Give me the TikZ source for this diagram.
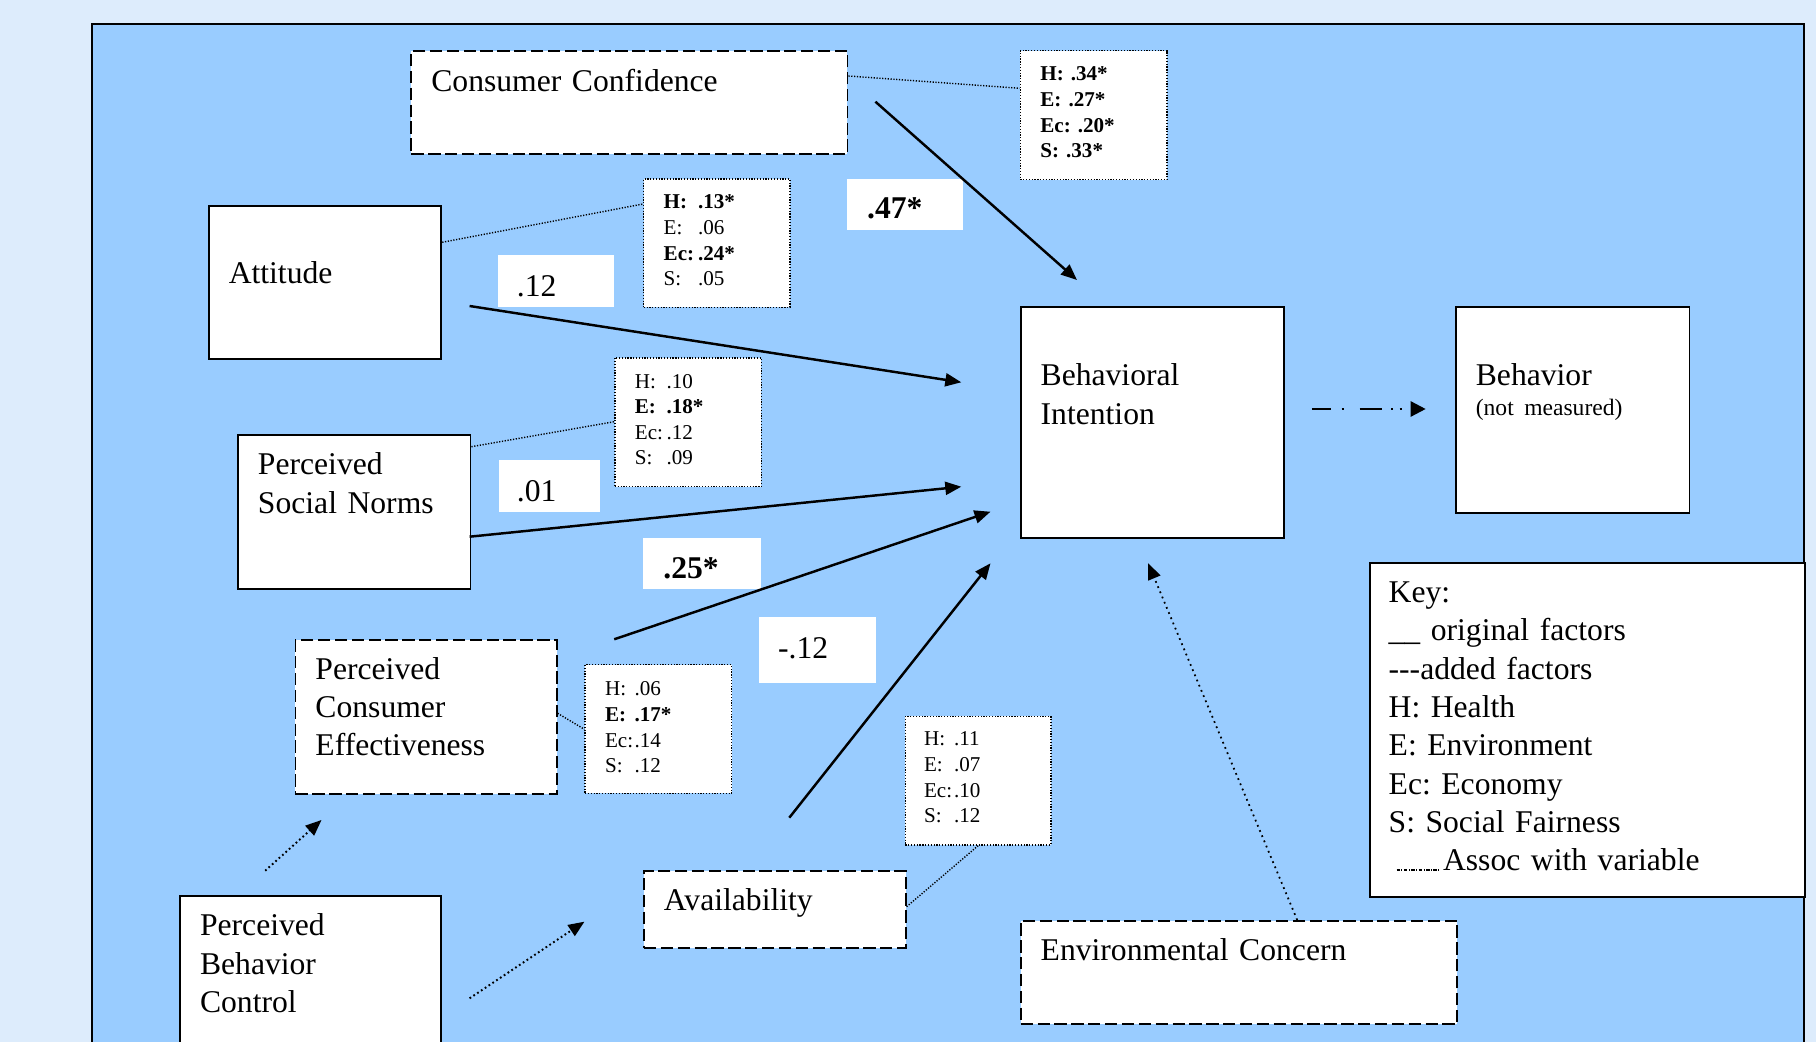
\documentclass[tikz,border=0pt]{standalone}
\usepackage{fontspec}
\setmainfont{Liberation Serif}
\usetikzlibrary{arrows.meta,calc}
\definecolor{pagebg}{RGB}{221,236,252}
\definecolor{panelbg}{RGB}{153,204,255}
% one line of a coefficient box: label, then value at a fixed tab
\newcommand{\sline}[3][1.45em]{\makebox[#1][l]{#2}#3}
\begin{document}
\frenchspacing
\begin{tikzpicture}[x=0.2mm, y=-0.2mm,
  font=\fontsize{18}{21.8}\selectfont,
  box/.style={draw, fill=white, line width=1.1pt, inner xsep=4mm, inner ysep=0pt, align=left, anchor=north west},
  added/.style={box, dash pattern=on 7pt off 2.6pt},
  stats/.style={draw, fill=white, line width=0.8pt, dash pattern=on 0.7pt off 0.9pt, inner xsep=4mm, inner ysep=0pt,
    align=left, anchor=north west, font=\fontsize{12}{14.6}\selectfont},
  coef/.style={fill=white, inner ysep=0pt, align=left, anchor=north west},
  effect/.style={-{Triangle[length=3.2mm,width=2.6mm]}, line width=1.4pt},
  link/.style={-{Triangle[length=3.2mm,width=2.6mm]}, line width=1.1pt, dash pattern=on 1pt off 1.6pt},
  assoc/.style={line width=0.8pt, dash pattern=on 0.7pt off 0.9pt},
  future/.style={-{Triangle[length=3mm,width=3mm]}, line width=1.4pt,
    dash pattern=on 11pt off 6pt on 1.2pt off 9pt on 13pt off 5pt on 1.2pt off 3.5pt on 1.2pt off 20pt}]

  % page and blue panel (panel runs off the bottom)
  \useasboundingbox (0,0) rectangle (1816,1042);
  \fill[pagebg] (0,0) rectangle (1816,1042);
  \filldraw[fill=panelbg, line width=1.2pt] (91.8,24.3) rectangle (1804,1120);

  % original factors (solid) and added factors (dashed)
  \node[added, text width=79.22mm, text height=8.2mm, text depth=12.46mm] (CC) at (410.4,50) {Consumer Confidence};
  \node[box, text width=38.5mm, text height=15.6mm, text depth=15mm] (Att) at (207.8,205) {Attitude};
  \node[box, text width=38.5mm, text height=8mm, text depth=22.86mm] (PSN) at (237,434) {Perceived\\Social Norms};
  \node[added, text width=44.24mm, text height=7.8mm, text depth=22.88mm] (PCE) at (294.5,639.3) {Perceived\\Consumer\\Effectiveness};
  \node[box, text width=44.24mm, text height=8mm, text depth=30mm] (PBC) at (179.1,895) {Perceived\\Behavior\\Control};
  \node[added, text width=44.34mm, text height=8mm, text depth=7.34mm] (Av) at (643,870) {Availability};
  \node[added, text width=79.28mm, text height=8mm, text depth=12.66mm] (EC) at (1019.7,920) {Environmental Concern};
  \node[box, text width=44.58mm, text height=15.8mm, text depth=30.34mm] (BI) at (1019.7,306) {Behavioral\\Intention};
  \node[box, text width=38.72mm, text height=15.8mm, text depth=25.34mm] (Beh) at (1454.9,306)
    {Behavior\\[-1.7mm]{\fontsize{13.4}{15}\selectfont(not measured)}};

  % key
  \node[box, inner xsep=3.74mm, text width=79.52mm, text height=8mm, text depth=58.8mm] (Key) at (1369,561.7)
    {Key:\\
     \_\_ original factors\\
     \mbox{-}\mbox{-}\mbox{-}added factors\\
     H: Health\\
     E: Environment\\
     Ec: Economy\\
     S: Social Fairness\\
     \hspace*{1.72em}Assoc with variable};
  \draw[line width=0.6pt, dash pattern=on 2pt off 0.8pt on 0.6pt off 0.8pt]
    ($(Key.north west)+(27.5,308.3)$) -- ++(43.8,0);

  % segment coefficients
  \node[stats, text width=21.34mm, text height=6mm, text depth=19.8mm] (sCC) at (1019.7,50)
    {\textbf{H: .34*}\\ \textbf{E: .27*}\\ \textbf{Ec: .20*}\\ \textbf{S: .33*}};
  \node[stats, text width=21.26mm, text height=5.94mm, text depth=19.74mm] (sAtt) at (643,178.3)
    {\textbf{\sline[1.63em]{H:}{.13*}}\\ \sline[1.63em]{E:}{.06}\\ \textbf{\sline[1.63em]{Ec:}{.24*}}\\ \sline[1.63em]{S:}{.05}};
  \node[stats, text width=21.28mm, text height=6mm, text depth=19.74mm] (sSN) at (614.2,357.3)
    {\sline[1.5em]{H:}{.10}\\ \textbf{\sline[1.5em]{E:}{.18*}}\\ \sline[1.5em]{Ec:}{.12}\\ \sline[1.5em]{S:}{.09}};
  \node[stats, text width=21.28mm, text height=6.2mm, text depth=19.54mm] (sCE) at (584.4,664)
    {\sline[1.4em]{H:}{.06}\\ \textbf{\sline[1.4em]{E:}{.17*}}\\ \sline[1.4em]{Ec:}{.14}\\ \sline[1.4em]{S:}{.12}};
  \node[stats, inner xsep=3.74mm, text width=21.6mm, text height=5.86mm, text depth=19.86mm] (sAv) at (904.7,715.7)
    {\sline[1.42em]{H:}{.11}\\ \sline[1.42em]{E:}{.07}\\ \sline[1.42em]{Ec:}{.10}\\ \sline[1.42em]{S:}{.12}};

  \draw[assoc] ($(CC.north east)+(0,26)$) -- ($(sCC.north west)+(0,38.3)$);
  \draw[assoc] ($(Att.north east)+(0,37.3)$) -- ($(sAtt.north west)+(0,25.7)$);
  \draw[assoc] ($(PSN.north east)+(0,12.7)$) -- ($(sSN.north west)+(0,64.4)$);
  \draw[assoc] ($(PCE.north east)+(0,74)$) -- ($(sCE.north west)+(0,65.3)$);
  \draw[assoc] ($(Av.north east)+(0,36.7)$) -- (sAv.south);

  % path coefficients
  \node[coef, inner xsep=3.72mm, text width=15.76mm, text height=8.14mm, text depth=2.2mm] (c12) at (498,255) {.12};
  \node[coef, inner xsep=4.02mm, text width=15.22mm, text height=7.94mm, text depth=2.4mm, font=\fontsize{18}{21.8}\selectfont\bfseries] (c47) at (846.7,178.3) {.47*};
  \node[coef, inner xsep=3.66mm, text width=12.88mm, text height=8.14mm, text depth=2.2mm] (c01) at (498.3,460) {.01};
  \node[coef, inner xsep=4mm, text width=15.52mm, text height=8.08mm, text depth=2.26mm, font=\fontsize{18}{21.8}\selectfont\bfseries] (c25) at (643,537.3) {.25*};
  \node[coef, inner xsep=3.78mm, text width=15.74mm, text height=8.32mm, text depth=4.88mm] (cm12) at (758.9,616.7) {-.12};

  % free ends of the arrows
  \coordinate (fromCC) at (875.4,101.7);
  \coordinate (toCC) at (1077,280);
  \coordinate (fromAtt) at (469.6,306);
  \coordinate (toAtt) at (961.3,382.3);
  \coordinate (fromSN) at (469.6,536.7);
  \coordinate (toSN) at (961.3,486.7);
  \coordinate (fromCE) at (614.2,639.3);
  \coordinate (toCE) at (990.5,511.7);
  \coordinate (fromAv) at (789.3,817.7);
  \coordinate (toAv) at (990.5,563.3);
  \coordinate (fromEC) at (1297.2,920);
  \coordinate (toEC) at (1148.2,563.3);
  \coordinate (fromBI) at (1311.8,409);
  \coordinate (toBeh) at (1425.7,409);
  \coordinate (fromPBC1) at (265.2,870.7);
  \coordinate (toPCE) at (321.5,820);
  \coordinate (fromPBC2) at (469.6,998.3);
  \coordinate (toAvl) at (584.4,921.7);

  % arrows
  \draw[effect] (fromCC) -- (toCC);
  \draw[effect] (fromAtt) -- (toAtt);
  \draw[effect] (fromSN) -- (toSN);
  \draw[effect] (fromCE) -- (toCE);
  \draw[effect] (fromAv) -- (toAv);
  \draw[link, line width=1pt, dash pattern=on 1pt off 2.2pt] (fromEC) -- (toEC);
  \draw[future] (fromBI) -- (toBeh);
  \draw[link] (fromPBC1) -- (toPCE);
  \draw[link] (fromPBC2) -- (toAvl);
\end{tikzpicture}
\end{document}
